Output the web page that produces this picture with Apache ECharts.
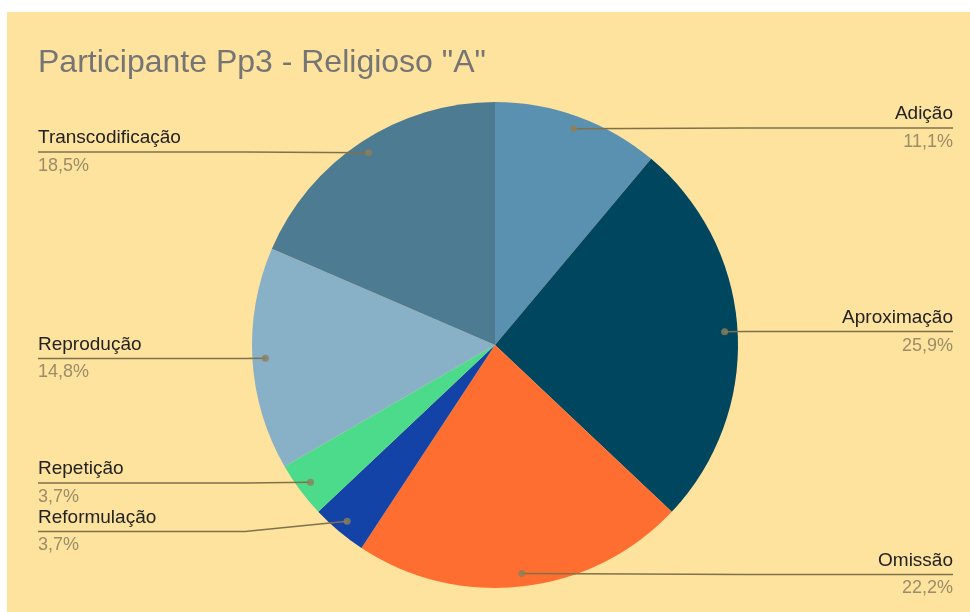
<!DOCTYPE html>
<html>
<head>
<meta charset="utf-8">
<title>Participante Pp3 - Religioso "A"</title>
<script src="https://cdn.jsdelivr.net/npm/echarts@6/dist/echarts.min.js"></script>
<style>
    body { margin: 0; background: #fff; }
    #frame { position: absolute; left: 7px; top: 12px; width: 963px; height: 600px; background: #fee39e; }
    #chart { width: 963px; height: 600px; }
</style>
</head>
<body>
<div id="frame"><div id="chart"></div></div>
<script>
// data, clockwise from 12 o'clock
const categories = ['Adição', 'Aproximação', 'Omissão', 'Reformulação', 'Repetição', 'Reprodução', 'Transcodificação'];
const counts = [3, 7, 6, 1, 1, 4, 5];
const colors = ['#5a91b0', '#00465f', '#ff6e31', '#1343a6', '#4bdb8a', '#88b0c7', '#4d7b91'];

const total = counts.reduce((a, b) => a + b, 0);
const center = [488, 333];
const bend = 250; // x offset from centre where a sloped leader line turns flat

const pieData = categories.map((name, i) => ({
    name: name,
    value: counts[i],
    itemStyle: { color: colors[i] }
}));

// dots sit at the middle angle of each slice
let acc = 0;
const dotData = counts.map(v => {
    const mid = acc + v / 2;
    acc += v;
    return [1, mid];
});

const fmtPct = v => (v / total * 100).toFixed(1).replace('.', ',') + '%';
const font = 'Liberation Sans, Arial, sans-serif';

const chart = echarts.init(document.getElementById('chart'));
chart.setOption({
    animation: false,
    title: {
        text: 'Participante Pp3 - Religioso "A"',
        left: 26,
        top: 30,
        textStyle: { fontFamily: font, fontSize: 32, fontWeight: 'normal', color: '#757575' }
    },
    polar: { center: center, radius: 230 },
    angleAxis: { type: 'value', min: 0, max: total, startAngle: 90, clockwise: true, show: false },
    radiusAxis: { type: 'value', min: 0, max: 1, show: false },
    series: [
        {
            type: 'pie',
            center: center,
            radius: 243,
            startAngle: 90,
            silent: true,
            label: { show: false },
            labelLine: { show: false },
            data: pieData
        },
        {
            // label carrier: same slices, transparent, so leader lines start at the dots
            type: 'pie',
            left: 0,
            top: 0,
            right: -14,
            bottom: 0,
            center: center,
            radius: 230,
            startAngle: 90,
            silent: true,
            z: 3,
            itemStyle: { color: 'rgba(0,0,0,0)' },
            label: {
                show: true,
                alignTo: 'edge',
                edgeDistance: 31,
                formatter: p => '{n|' + p.name + '}\n{p|' + fmtPct(p.value) + '}',
                rich: {
                    n: { fontFamily: font, fontSize: 19, lineHeight: 28, color: '#222222' },
                    p: { fontFamily: font, fontSize: 18, lineHeight: 28, color: '#9a8d68' }
                }
            },
            labelLine: {
                show: true,
                length: 1,
                length2: 10,
                lineStyle: { color: '#7f7249', width: 1.5 }
            },
            // run the leader line on under the text, out to the label's far edge
            labelLayout: params => {
                const pts = params.labelLinePoints;
                if (!pts || pts.length < 2) return {};
                const r = params.labelRect;
                const start = pts[0];
                const endY = pts[pts.length - 1][1];
                const isLeft = pts[pts.length - 1][0] < center[0];
                const farX = isLeft ? r.x : r.x + r.width;
                let bx = isLeft ? center[0] - bend : center[0] + bend;
                if (isLeft ? bx > start[0] : bx < start[0]) bx = start[0];
                return { labelLinePoints: [start.slice(), [bx, endY], [farX, endY]] };
            },
            data: categories.map((name, i) => ({ name: name, value: counts[i] }))
        },
        {
            type: 'scatter',
            coordinateSystem: 'polar',
            symbolSize: 7,
            z: 5,
            silent: true,
            itemStyle: { color: '#8c7f5a' },
            data: dotData
        }
    ]
});
</script>
</body>
</html>
